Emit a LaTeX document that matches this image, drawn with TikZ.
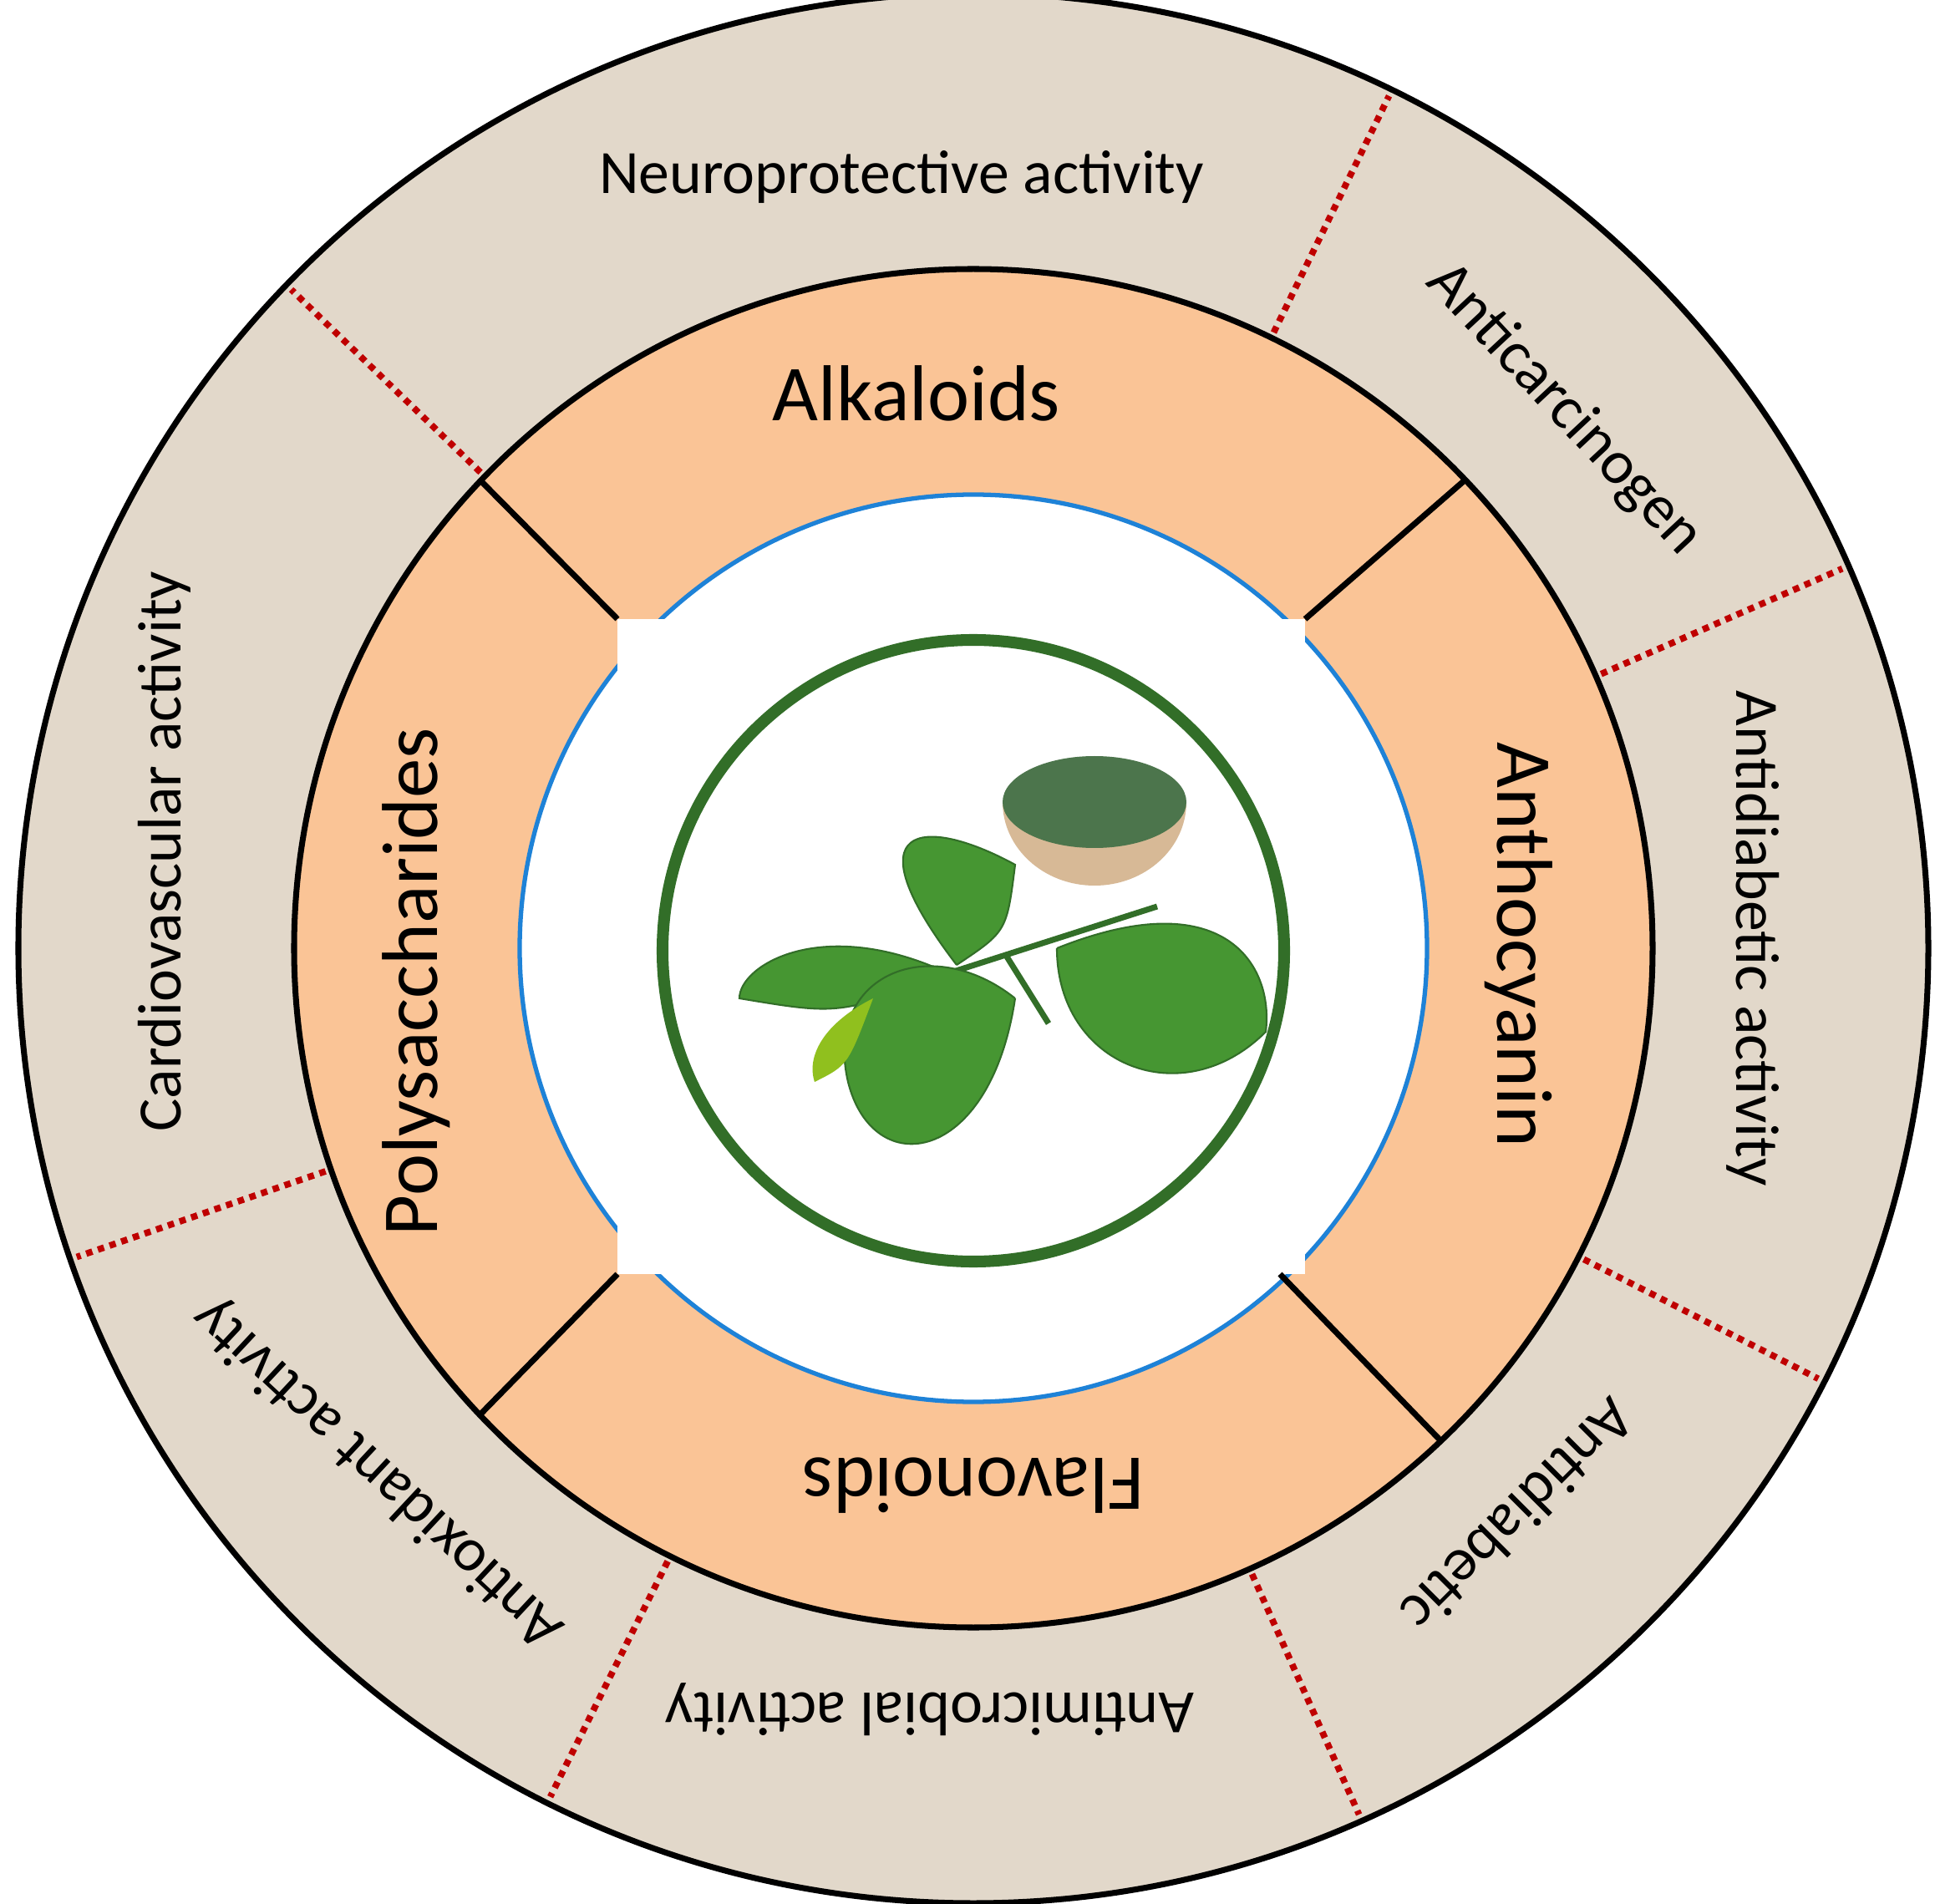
\documentclass[tikz,border=0pt]{standalone}
\usepackage{fontspec}
\setmainfont{Carlito}
\usetikzlibrary{positioning}
\definecolor{sand}{RGB}{226,216,202}
\definecolor{peach}{RGB}{250,196,150}
\definecolor{ringblue}{RGB}{30,130,215}
\definecolor{leafgreen}{RGB}{70,150,50}
\definecolor{darkleaf}{RGB}{50,110,40}
\definecolor{bowl}{RGB}{215,185,150}
\tikzset{
  outerlbl/.style={font=\fontsize{21}{24}\selectfont},
  innerlbl/.style={font=\fontsize{27}{30}\selectfont},
  divider/.style={red!75!black, line width=2.2pt, dotted},
  sector/.style={black, line width=2pt},
  leaf/.style={fill=leafgreen, draw=darkleaf, line width=0.6pt}
}
\begin{document}
\begin{tikzpicture}
  \useasboundingbox (-11.65,-11.43) rectangle (11.57,11.35);
  % rings
  \fill[sand] (0,0) circle (11.43);
  \draw[line width=2pt] (0,0) circle (11.43);
  \fill[peach, draw=black, line width=2pt] (0,0) circle (8.13);
  \fill[white, draw=ringblue, line width=1.5pt] (0,0) circle (5.43);
  \fill[white] (-4.26,-3.90) rectangle (3.97,3.94);
  % dotted dividers of the outer ring
  \foreach \a in {64,136,23.6,-27,-66,-116.5,-161}
    \draw[divider] (\a:8.2) -- (\a:11.35);
  % dividers of the orange ring
  \coordinate (cNE) at (3.97,3.94);
  \coordinate (cNW) at (-4.26,3.94);
  \coordinate (cSW) at (-4.26,-3.90);
  \coordinate (cSE) at (3.67,-3.90);
  \draw[sector] (cNE) -- (43.6:8.13);
  \draw[sector] (cNW) -- (136.5:8.13);
  \draw[sector] (cSW) -- (-136.6:8.13);
  \draw[sector] (cSE) -- (-46.5:8.13);
  % inner labels
  \node[innerlbl] (alk) at (-0.68,6.64) {Alkaloids};
  \node[innerlbl, rotate=-90] (antho) at (6.53,0.04) {Anthocyanin};
  \node[innerlbl, rotate=180] (flav) at (0,-6.43) {Flavonoids};
  \node[innerlbl, rotate=90] (poly) at (-6.67,-0.40) {Polysaccharides};
  % outer labels
  \node[outerlbl] (neuro) at (-0.86,9.23) {Neuroprotective activity};
  \node[outerlbl, rotate=-47] (carc) at (7.07,6.45) {Anticarcinogen};
  \node[outerlbl, rotate=-90] (diabact) at (9.33,0.12) {Antidiabetic activity};
  \node[outerlbl, rotate=-135] (diab) at (6.53,-6.80) {Antidiabetic};
  \node[outerlbl, rotate=180] (micro) at (-0.52,-9.11) {Antimicrobial activity};
  \node[outerlbl, rotate=137] (oxid) at (-7.12,-6.28) {Antioxidant activity};
  \node[outerlbl, rotate=90] (cardio) at (-9.68,1.16) {Cardiovascular activity};
  % plant picture
  \fill[bowl] (0.35,1.75) arc (180:360:1.1 and 1.0) -- cycle;
  \fill[black!60!green!40!gray] (1.45,1.75) ellipse (1.1 and 0.55);
  \draw[darkleaf, line width=2pt] (-0.3,-0.3) -- (2.2,0.5);
  \draw[darkleaf, line width=2pt] (0.4,-0.1) -- (0.9,-0.9);
  \fill[leaf] (-0.2,-0.2) .. controls (-1.5,1.5) and (-0.6,1.6) .. (0.5,1.0)
    .. controls (0.4,0.2) .. (-0.2,-0.2);
  \fill[leaf] (-0.3,-0.3) .. controls (-1.8,0.4) and (-2.8,-0.2) .. (-2.8,-0.6)
    .. controls (-1.6,-0.8) .. (-0.3,-0.3);
  \fill[leaf] (1.0,0.0) .. controls (3.0,0.8) and (3.6,-0.2) .. (3.5,-1.0)
    .. controls (2.5,-2.0) and (1.0,-1.4) .. (1.0,0.0);
  \fill[leaf] (0.5,-0.6) .. controls (-0.5,0.2) and (-1.8,-0.3) .. (-1.5,-1.6)
    .. controls (-1.2,-2.8) and (0.2,-2.6) .. (0.5,-0.6);
  \fill[leafgreen!60!yellow] (-1.2,-0.6) .. controls (-1.8,-0.9) and (-2.0,-1.3) .. (-1.9,-1.6)
    .. controls (-1.5,-1.4) .. (-1.2,-0.6);
  % green frame
  \draw[darkleaf, line width=4pt] (0,-0.03) circle (3.72);
\end{tikzpicture}
\end{document}
